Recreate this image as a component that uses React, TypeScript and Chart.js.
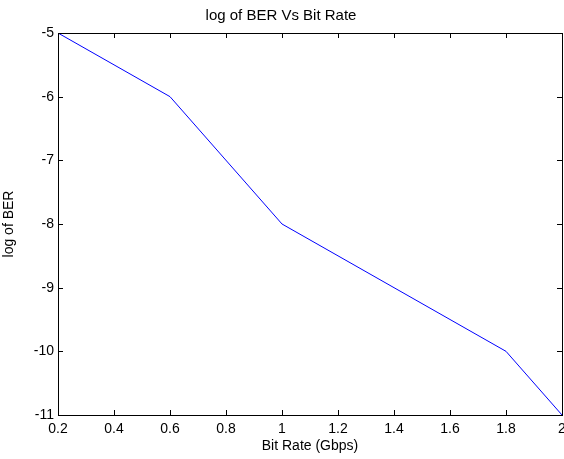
import React, { useEffect, useRef } from "react";
import { Chart, registerables } from "chart.js";

Chart.register(...registerables);

const bitRate = [0.2, 0.6, 1.0, 1.8, 2.0];
const logBER = [-5, -6, -8, -10, -11];
const titleText = "log of BER Vs Bit Rate";
const xLabel = "Bit Rate (Gbps)";
const yLabel = "log of BER";

const FONT = "'Liberation Sans', Arial, Helvetica, sans-serif";

const frameTicks = {
  id: "frameTicks",
  afterDraw(chart: any) {
    const { ctx, chartArea } = chart;
    const { left, right, top, bottom } = chartArea;
    const xs = chart.scales.x;
    const ys = chart.scales.y;
    const tl = 5;
    ctx.save();
    ctx.strokeStyle = "#000";
    ctx.lineWidth = 1;
    ctx.beginPath();
    xs.ticks.forEach((_t: any, i: number) => {
      const px = Math.round(xs.getPixelForTick(i)) + 0.5;
      ctx.moveTo(px, bottom);
      ctx.lineTo(px, bottom - tl);
      ctx.moveTo(px, top);
      ctx.lineTo(px, top + tl);
    });
    ys.ticks.forEach((_t: any, i: number) => {
      const py = Math.round(ys.getPixelForTick(i)) + 0.5;
      ctx.moveTo(left, py);
      ctx.lineTo(left + tl, py);
      ctx.moveTo(right, py);
      ctx.lineTo(right - tl, py);
    });
    ctx.stroke();
    ctx.strokeRect(Math.round(left) + 0.5, Math.round(top) + 0.5, Math.round(right - left), Math.round(bottom - top));
    ctx.restore();
  },
};

export default function App() {
  const ref = useRef<HTMLCanvasElement | null>(null);
  useEffect(() => {
    document.body.style.margin = "0";
    const canvas = ref.current!;
    const chart = new Chart(canvas, {
      type: "line",
      data: {
        datasets: [
          {
            data: bitRate.map((v, i) => ({ x: v, y: logBER[i] })),
            borderColor: "#0000ff",
            borderWidth: 1,
            pointRadius: 0,
            tension: 0,
            fill: false,
          },
        ],
      },
      options: {
        responsive: false,
        animation: false,
        devicePixelRatio: 1,
        layout: { padding: { left: 0, right: 2, top: 0, bottom: 0 } },
        plugins: {
          legend: { display: false },
          tooltip: { enabled: false },
          title: {
            display: true,
            text: titleText,
            color: "#000",
            font: { family: FONT, size: 15, weight: "normal" },
            padding: { top: 7, bottom: 8 },
          },
        },
        scales: {
          x: {
            type: "linear",
            min: 0.2,
            max: 2,
            grid: { display: false, drawTicks: false },
            border: { display: false },
            ticks: {
              stepSize: 0.2,
              autoSkip: false,
              maxRotation: 0,
              padding: 6,
              color: "#000",
              font: { family: FONT, size: 14 },
              callback: (v: any) => String(Number(Number(v).toFixed(1))),
            },
            title: {
              display: true,
              text: xLabel,
              color: "#000",
              font: { family: FONT, size: 14 },
              padding: { top: 0, bottom: 4 },
            },
            afterFit: (s: any) => {
              s.height = 44;
              s.paddingLeft = 0;
              s.paddingRight = 0;
            },
          },
          y: {
            type: "linear",
            min: -11,
            max: -5,
            grid: { display: false, drawTicks: false },
            border: { display: false },
            ticks: {
              stepSize: 1,
              autoSkip: false,
              padding: 4,
              color: "#000",
              font: { family: FONT, size: 14 },
            },
            title: {
              display: true,
              text: yLabel,
              color: "#000",
              font: { family: FONT, size: 14 },
              padding: { top: 0.5, bottom: 0 },
            },
            afterFit: (s: any) => {
              s.width = 58;
              s.paddingTop = 0;
              s.paddingBottom = 0;
            },
          },
        },
      },
      plugins: [frameTicks],
    });
    return () => chart.destroy();
  }, []);
  return (
    <div style={{ width: 564, height: 459, background: "#fff" }}>
      <canvas ref={ref} width={564} height={459} />
    </div>
  );
}
